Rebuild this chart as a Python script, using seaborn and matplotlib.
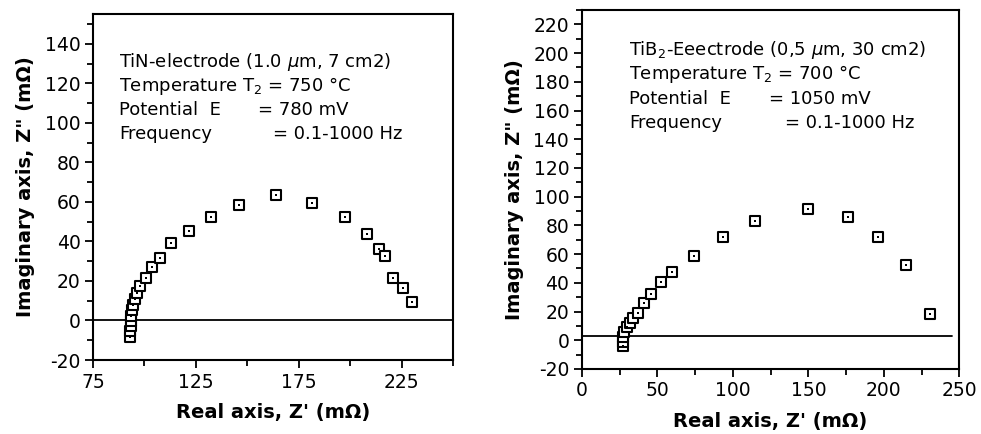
import numpy as np
import pandas as pd
import matplotlib
matplotlib.use("Agg")
import matplotlib.pyplot as plt
from matplotlib.ticker import MultipleLocator, FixedLocator
import seaborn as sns

sns.set_style("ticks")
plt.rcParams['font.family'] = ['DejaVu Sans']
plt.rcParams['axes.unicode_minus'] = False
plt.rcParams['mathtext.fontset'] = 'dejavusans'
for key in ['text.color', 'axes.labelcolor', 'xtick.color', 'ytick.color', 'axes.edgecolor']:
    plt.rcParams[key] = 'black'

# TiN electrode, 750 C, 780 mV
tin_real = [92.8, 93.2, 93.5, 93.7, 93.7, 93.9, 94.4, 95.5, 96.6, 98.0,
            101.0, 103.7, 107.6, 112.8, 121.5, 132.2, 146.0, 163.8, 181.5,
            197.7, 208.0, 213.9, 217.1, 221.0, 225.9, 230.1]
tin_imag = [-8.5, -5.4, -2.9, -0.4, 2.2, 5.1, 7.8, 10.8, 14.0, 17.5,
            21.7, 27.0, 31.8, 39.0, 45.3, 52.2, 58.5, 63.6, 59.5,
            52.2, 44.0, 36.1, 32.7, 21.7, 16.6, 9.3]

# TiB2 electrode, 700 C, 1050 mV
tib_real = [27.5, 27.5, 27.5, 28.2, 29.7, 31.9, 34.1, 37.4, 41.4, 46.0, 52.6,
            59.5, 74.2, 93.2, 114.5, 149.8, 176.2, 196.0, 214.8, 230.6]
tib_imag = [-4.0, -1.0, 2.5, 6.0, 9.5, 12.3, 15.4, 19.3, 26.0, 32.1, 40.5,
            47.4, 58.8, 71.6, 82.8, 91.4, 85.8, 71.6, 52.1, 18.4]

tin = pd.DataFrame({"real": tin_real, "imag": tin_imag})
tib = pd.DataFrame({"real": tib_real, "imag": tib_imag})

fig = plt.figure(figsize=(9.81, 4.34), dpi=100)
ax1 = fig.add_axes([0.0948, 0.1705, 0.367, 0.797])
ax2 = fig.add_axes([0.593, 0.1498, 0.385, 0.827])


def draw(ax, df, baseline, line_end):
    sns.scatterplot(data=df, x="real", y="imag", ax=ax, marker="s", s=44,
                    facecolor="white", edgecolor="black", linewidth=1.5, zorder=3)
    sns.scatterplot(data=df, x="real", y="imag", ax=ax, marker="s", s=3,
                    color="black", linewidth=0, zorder=4)
    ax.plot([ax.get_xlim()[0], line_end], [baseline, baseline], color="black", lw=1.3, zorder=2)
    for sp in ax.spines.values():
        sp.set_linewidth(1.5)
        sp.set_visible(True)
    ax.tick_params(which="major", direction="out", length=6, width=1.3, labelsize=13.5, pad=3)
    ax.tick_params(which="minor", direction="out", length=4, width=1.3)
    ax.set_xlabel("Real axis, Z' (m\u03a9)", fontsize=14, fontweight="bold", labelpad=8)
    ax.set_ylabel("Imaginary axis, Z\" (m\u03a9)", fontsize=14, fontweight="bold", labelpad=7)


ax1.set_xlim(75, 250)
ax1.set_ylim(-20, 155)
draw(ax1, tin, 0, 250)
ax1.xaxis.set_major_locator(FixedLocator([75, 125, 175, 225]))
ax1.xaxis.set_minor_locator(MultipleLocator(25))
ax1.yaxis.set_major_locator(FixedLocator(list(range(-20, 141, 20))))
ax1.yaxis.set_minor_locator(MultipleLocator(10))

ax2.set_xlim(0, 250)
ax2.set_ylim(-20, 230)
draw(ax2, tib, 3, 245)
ax2.xaxis.set_major_locator(MultipleLocator(50))
ax2.xaxis.set_minor_locator(MultipleLocator(25))
ax2.yaxis.set_major_locator(FixedLocator(list(range(-20, 221, 20))))
ax2.yaxis.set_minor_locator(MultipleLocator(10))

fs = 13
# left annotation
x0, y0, dy = 0.072, 0.861, 0.0694
ax1.text(x0, y0, "TiN-electrode (1.0 $\\mathit{\u03bc}$m, 7 cm2)", transform=ax1.transAxes, fontsize=fs, va="center")
ax1.text(x0, y0 - dy, "Temperature T$_{2}$ = 750 \u00b0C", transform=ax1.transAxes, fontsize=fs, va="center")
ax1.text(x0, y0 - 2 * dy, "Potential  E", transform=ax1.transAxes, fontsize=fs, va="center")
ax1.text(0.458, y0 - 2 * dy, "= 780 mV", transform=ax1.transAxes, fontsize=fs, va="center")
ax1.text(x0, y0 - 3 * dy, "Frequency", transform=ax1.transAxes, fontsize=fs, va="center")
ax1.text(0.50, y0 - 3 * dy, "= 0.1-1000 Hz", transform=ax1.transAxes, fontsize=fs, va="center")

# right annotation
x0, y0, dy = 0.125, 0.889, 0.0677
ax2.text(x0, y0, "TiB$_{2}$-Eeectrode (0,5 $\\mathit{\u03bc}$m, 30 cm2)", transform=ax2.transAxes, fontsize=fs, va="center")
ax2.text(x0, y0 - dy, "Temperature T$_{2}$ = 700 \u00b0C", transform=ax2.transAxes, fontsize=fs, va="center")
ax2.text(x0, y0 - 2 * dy, "Potential  E", transform=ax2.transAxes, fontsize=fs, va="center")
ax2.text(0.497, y0 - 2 * dy, "= 1050 mV", transform=ax2.transAxes, fontsize=fs, va="center")
ax2.text(x0, y0 - 3 * dy, "Frequency", transform=ax2.transAxes, fontsize=fs, va="center")
ax2.text(0.537, y0 - 3 * dy, "= 0.1-1000 Hz", transform=ax2.transAxes, fontsize=fs, va="center")

fig.savefig("out.png", dpi=100)
